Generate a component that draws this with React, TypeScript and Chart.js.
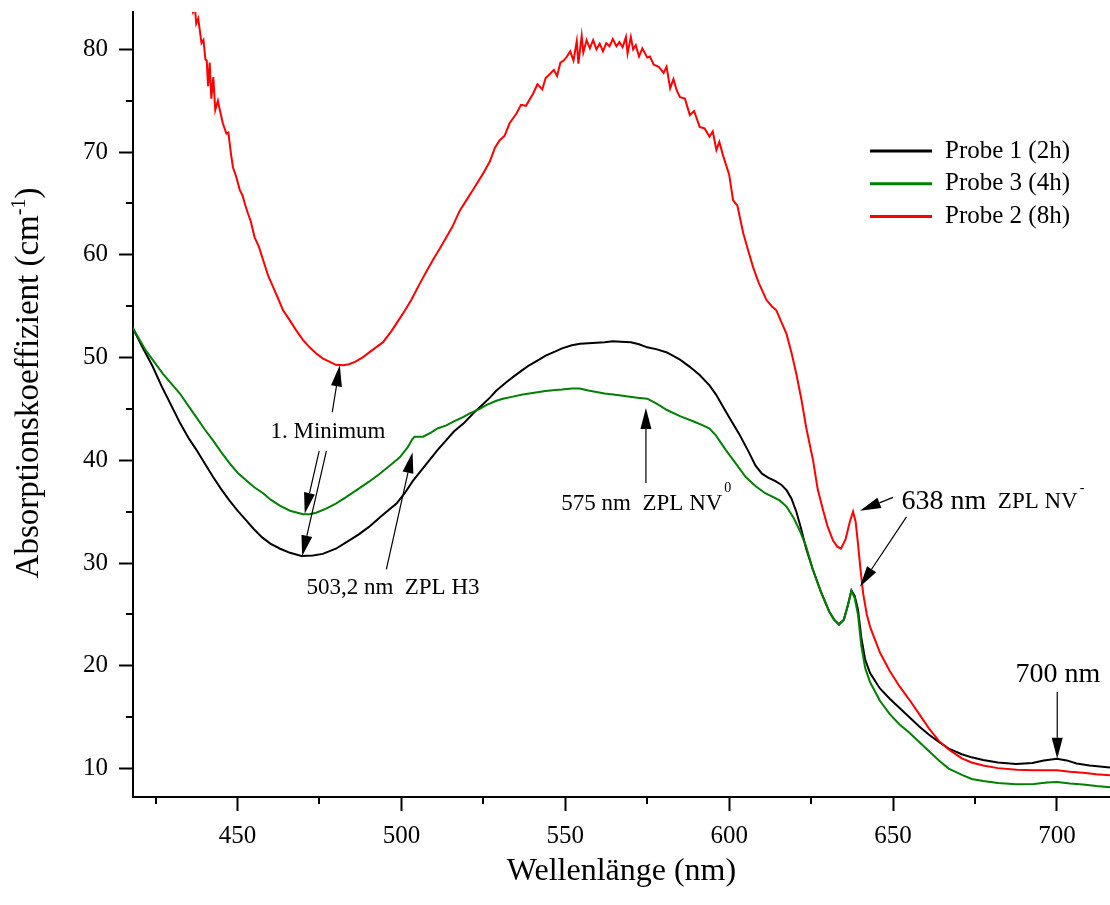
import React, { useEffect, useRef } from 'react';
import { Chart, registerables } from 'chart.js';

Chart.register(...registerables);

const FONT = '"Liberation Serif", "Times New Roman", serif';

const X_MIN = 418.1;
const X_MAX = 716.2;
const Y_MIN = 7.24;
const Y_MAX = 83.63;

const xMajorTicks = [450, 500, 550, 600, 650, 700];
const xMinorTicks = [425, 475, 525, 575, 625, 675];
const yMajorTicks = [10, 20, 30, 40, 50, 60, 70, 80];
const yMinorTicks = [15, 25, 35, 45, 55, 65, 75];

const xTitle = 'Wellenlänge (nm)';
const yTitleMain = 'Absorptionskoeffizient (cm';
const yTitleSup = '-1';
const yTitleEnd = ')';

const seriesLabels = ['Probe 1 (2h)', 'Probe 3 (4h)', 'Probe 2 (8h)'];
const seriesColors = ['#000000', '#008000', '#ff0000'];

// Probe 1 (2h) - black
const probe1Nm = [
  418, 421, 424, 427, 430, 432.5, 435, 437.5, 440, 442.5, 445, 447.5, 450, 452.5, 455, 457.5, 460, 463, 466, 469.5,
  473, 476, 480, 483, 487, 490, 494, 498.5, 501, 503.5, 506, 508.5, 511, 513.5, 516, 519, 522, 524, 527, 529,
  532, 534, 537, 539, 542, 544, 547, 549, 552, 554.5, 557, 559.5, 562, 564.5, 567, 570, 572.5, 575, 578, 581,
  585, 588, 591, 594, 596, 598, 600, 603, 606, 608, 610, 612, 614, 616, 617.5, 619, 620.5, 622, 623.5, 625.5,
  628, 630.5, 632, 633.5, 635, 636.3, 637.3, 638.3, 639.3, 640.3, 641.5, 643, 646, 649, 652, 655, 658, 661, 664, 667,
  671, 674, 677.5, 682, 687.5, 692.5, 696, 700, 703, 706, 710, 716.2,
];
const probe1Val = [
  52.9, 51.0, 49.2, 47.1, 45.2, 43.6, 42.2, 41.0, 39.7, 38.4, 37.2, 36.1, 35.1, 34.2, 33.3, 32.5, 31.9, 31.4, 31.0, 30.7,
  30.75, 30.9, 31.4, 32.0, 32.8, 33.5, 34.6, 35.8, 36.8, 38.0, 39.0, 40.0, 41.0, 41.9, 42.8, 43.6, 44.6, 45.2, 46.1, 46.8,
  47.6, 48.1, 48.8, 49.25, 49.8, 50.2, 50.6, 50.9, 51.2, 51.35, 51.4, 51.45, 51.5, 51.6, 51.55, 51.5, 51.3, 51.0, 50.8, 50.5,
  49.8, 49.1, 48.3, 47.3, 46.4, 45.3, 44.2, 42.6, 40.8, 39.5, 38.7, 38.3, 38.0, 37.6, 37.1, 36.3, 35.0, 33.3, 31.4, 29.4,
  27.2, 25.3, 24.5, 24.05, 24.5, 26.0, 27.35, 26.8, 25.5, 22.8, 20.6, 19.3, 17.8, 16.8, 15.9, 15.0, 14.1, 13.3, 12.6, 11.95,
  11.4, 11.1, 10.85, 10.6, 10.45, 10.55, 10.8, 10.95, 10.8, 10.5, 10.3, 10.1,
];

// Probe 3 (4h) - green
const probe3Nm = [
  418, 422, 424.5, 427.3, 430, 432.4, 435, 437.4, 440, 442.5, 445, 447.6, 450, 452.7, 455, 457.8, 460, 462.9, 466, 470,
  472, 474, 477, 480, 483, 486.3, 490, 493.4, 496.5, 499.5, 502, 503.2, 504, 506.6, 509, 511, 513.7, 516, 518.8, 521,
  523.9, 526, 529, 531, 534, 537, 539, 542, 544, 547, 549, 552, 554.4, 557, 559.5, 562, 564.6, 567, 569.7, 572,
  575, 578, 581, 585, 589, 592, 594, 596, 599, 602, 605, 608, 611, 613, 615.4, 617.5, 619.5, 621.5, 623.5, 625.5,
  628, 630.5, 632, 633.5, 635, 636.3, 637.3, 638.3, 639.3, 640.3, 641.5, 643, 646, 649, 652, 655, 658, 661, 664, 667,
  671, 674, 677.5, 682, 687.5, 693, 697, 700, 704, 708, 712, 716.2,
];
const probe3Val = [
  52.9, 50.7, 49.6, 48.4, 47.4, 46.5, 45.3, 44.2, 43.0, 41.95, 40.8, 39.7, 38.8, 38.05, 37.4, 36.8, 36.2, 35.6, 35.1, 34.75,
  34.75, 34.9, 35.3, 35.8, 36.4, 37.1, 37.9, 38.7, 39.5, 40.3, 41.3, 42.0, 42.3, 42.3, 42.7, 43.1, 43.4, 43.8, 44.2, 44.6,
  45.0, 45.4, 45.8, 46.0, 46.2, 46.4, 46.5, 46.65, 46.75, 46.85, 46.9, 47.0, 47.0, 46.8, 46.65, 46.5, 46.4, 46.3, 46.2, 46.1,
  46.0, 45.5, 44.9, 44.3, 43.8, 43.4, 43.1, 42.4, 41.0, 39.7, 38.4, 37.5, 36.8, 36.5, 36.1, 35.5, 34.5, 33.2, 31.6, 29.4,
  27.2, 25.3, 24.5, 24.0, 24.5, 26.0, 27.3, 26.6, 25.0, 22.0, 19.8, 18.4, 16.6, 15.3, 14.3, 13.5, 12.6, 11.7, 10.8, 10.0,
  9.4, 9.0, 8.8, 8.6, 8.47, 8.5, 8.65, 8.7, 8.55, 8.45, 8.3, 8.2,
];

// Probe 2 (8h) - red
const probe2Nm = [
  434.5, 436.4, 437, 437.4, 438, 439, 439.6, 440.2, 440.6, 441, 441.5, 442, 442.6, 443.2, 444, 444.6, 445.5, 446.6, 447.2, 448,
  448.6, 449.5, 450.7, 451.5, 452.3, 453.2, 454, 455.2, 456.5, 457.8, 459.3, 460.8, 462.3, 463.9, 466, 467.9, 470, 472, 474, 476.1,
  478, 480, 482.2, 484, 486, 488.3, 491, 494.4, 497, 500.5, 503, 505.6, 507.5, 509.6, 511.5, 513.7, 515.5, 517.8, 519.8, 522,
  524.9, 527, 528.5, 530, 531.5, 533, 535.1, 536.5, 538, 540.2, 541.5, 543, 544, 545.3, 546.5, 547.5, 548.5, 549.5, 550.4, 551.5,
  552.5, 553.5, 554, 555, 555.5, 556.5, 557.5, 558.5, 559.5, 560.5, 561.5, 562.5, 563.5, 564.5, 565.6, 566.5, 567.5, 568.5, 569, 570,
  570.7, 571.5, 572.5, 573.5, 575, 575.8, 577, 578.5, 580, 580.9, 582, 583, 584, 585, 586.5, 588, 589.3, 591, 592.5, 594,
  595, 596.1, 597, 598, 600, 601.2, 602.5, 604.3, 606, 607.3, 609, 611.4, 613, 614.4, 616, 617.5, 619, 620.5, 622, 623.5,
  625.6, 627, 628.7, 630, 631.7, 633, 634.1, 635.5, 636.8, 637.8, 638.6, 639.3, 640.1, 640.9, 642, 643, 646, 649, 652, 655,
  658, 661, 664, 667.3, 671, 674, 677.5, 682, 687.7, 693, 697, 700, 704, 708, 712, 716.2,
];
const probe2Val = [
  86.0, 83.6, 84.0, 82.5, 83.0, 80.6, 80.9, 79.0, 78.9, 76.4, 78.7, 75.2, 77.3, 74.1, 75.0, 74.1, 72.8, 71.8, 71.9, 69.8,
  68.5, 67.7, 66.3, 65.8, 64.9, 64.0, 63.3, 61.7, 60.8, 59.5, 58.0, 56.9, 55.8, 54.6, 53.6, 52.65, 51.7, 51.0, 50.4, 49.9,
  49.6, 49.3, 49.25, 49.35, 49.6, 50.05, 50.7, 51.5, 52.6, 54.3, 55.6, 57.2, 58.3, 59.5, 60.5, 61.7, 62.7, 64.3, 65.3, 66.4,
  67.9, 69.1, 70.4, 71.15, 71.6, 72.8, 73.75, 74.6, 74.5, 75.7, 76.6, 76.1, 77.2, 77.6, 78.0, 77.4, 78.7, 78.9, 79.25, 79.8,
  78.9, 80.8, 78.6, 81.3, 79.7, 80.9, 80.1, 80.9, 80.0, 80.55, 79.8, 80.6, 80.3, 81.0, 80.3, 80.7, 80.2, 81.2, 79.6, 81.2,
  80.0, 80.4, 79.3, 80.1, 79.2, 79.3, 78.5, 78.3, 77.7, 78.3, 76.2, 77.1, 76.0, 75.35, 75.2, 73.6, 74.0, 72.45, 72.3, 71.5,
  72.0, 70.2, 71.0, 69.8, 67.8, 65.3, 64.8, 62.1, 60.2, 58.8, 57.3, 55.6, 55.0, 54.6, 53.4, 52.3, 50.5, 48.4, 46.0, 43.2,
  40.0, 37.2, 35.1, 33.6, 32.2, 31.6, 31.4, 32.3, 34.0, 35.0, 34.0, 31.9, 29.3, 27.0, 25.0, 23.8, 21.3, 19.5, 18.0, 16.7,
  15.3, 13.9, 12.7, 11.8, 11.0, 10.6, 10.3, 10.05, 9.9, 9.85, 9.85, 9.84, 9.7, 9.6, 9.45, 9.35,
];

// annotation arrows in data coordinates: [tailNm, tailVal, tipNm, tipVal]
const annotationArrows = [
  [478.9, 44.7, 481.2, 49.25],
  [474.9, 40.9, 470.5, 34.8],
  [477.1, 40.9, 469.7, 30.66],
  [495.4, 29.4, 503.4, 40.8],
  [574.6, 37.8, 574.6, 45.1],
  [650.0, 36.4, 639.9, 35.1],
  [654.1, 34.5, 639.9, 27.7],
  [700.1, 17.45, 700.1, 10.97],
];

// annotation labels: anchor in data coordinates, alignment, and text runs [text, size, raise]
const annotationLabels = [
  { nm: 477.6, val: 42.75, align: 'center', runs: [['1. Minimum', 23, 0]] },
  { nm: 471.0, val: 27.55, align: 'left', runs: [['503,2 nm  ZPL H3', 23, 0]] },
  { nm: 548.8, val: 35.8, align: 'left', runs: [['575 nm  ZPL NV', 23, 0], ['0', 14, 15]] },
  { nm: 652.6, val: 35.95, align: 'left', runs: [['638 nm', 28, 0], ['  ZPL NV', 23, 0], ['-', 14, 14]] },
  { nm: 700.3, val: 19.1, align: 'center', runs: [['700 nm', 28, 0]] },
];

function drawArrow(ctx: CanvasRenderingContext2D, x1: number, y1: number, x2: number, y2: number) {
  const headLen = 21;
  const headHalf = 5.5;
  const dx = x2 - x1;
  const dy = y2 - y1;
  const len = Math.hypot(dx, dy);
  const ux = dx / len;
  const uy = dy / len;
  const bx = x2 - ux * headLen;
  const by = y2 - uy * headLen;
  ctx.beginPath();
  ctx.moveTo(x1, y1);
  ctx.lineTo(bx, by);
  ctx.stroke();
  ctx.beginPath();
  ctx.moveTo(x2, y2);
  ctx.lineTo(bx - uy * headHalf, by + ux * headHalf);
  ctx.lineTo(bx + uy * headHalf, by - ux * headHalf);
  ctx.closePath();
  ctx.fill();
}

const decorPlugin = {
  id: 'decor',
  afterDraw(chart: any) {
    const { ctx, chartArea } = chart;
    const xs = chart.scales.x;
    const ys = chart.scales.y;
    ctx.save();
    ctx.strokeStyle = '#000';
    ctx.fillStyle = '#000';
    ctx.lineWidth = 2;
    // minor ticks
    xMinorTicks.forEach((v) => {
      const px = Math.round(xs.getPixelForValue(v));
      ctx.beginPath();
      ctx.moveTo(px, chartArea.bottom);
      ctx.lineTo(px, chartArea.bottom + 7);
      ctx.stroke();
    });
    yMinorTicks.forEach((v) => {
      const py = Math.round(ys.getPixelForValue(v));
      ctx.beginPath();
      ctx.moveTo(chartArea.left, py);
      ctx.lineTo(chartArea.left - 7, py);
      ctx.stroke();
    });

    // arrows
    ctx.lineWidth = 1.2;
    annotationArrows.forEach(([a, b, c, d]) => {
      drawArrow(ctx, xs.getPixelForValue(a), ys.getPixelForValue(b), xs.getPixelForValue(c), ys.getPixelForValue(d));
    });

    // labels
    ctx.textBaseline = 'middle';
    ctx.textAlign = 'left';
    annotationLabels.forEach((lab) => {
      const widths = lab.runs.map(([t, s]) => {
        ctx.font = `${s}px ${FONT}`;
        return ctx.measureText(t as string).width;
      });
      const total = widths.reduce((p, q) => p + q, 0);
      let x = xs.getPixelForValue(lab.nm);
      const y = ys.getPixelForValue(lab.val);
      if (lab.align === 'center') x -= total / 2;
      lab.runs.forEach(([t, s, r], i) => {
        ctx.font = `${s}px ${FONT}`;
        ctx.fillText(t as string, x + (r ? 2 : 0), y - (r as number));
        x += widths[i];
      });
    });

    // legend
    const legX = chartArea.right - 240;
    const legY0 = chartArea.top + 139;
    seriesLabels.forEach((label, i) => {
      const y = legY0 + i * 32.7;
      ctx.strokeStyle = seriesColors[i];
      ctx.lineWidth = 3;
      ctx.beginPath();
      ctx.moveTo(legX, y);
      ctx.lineTo(legX + 62, y);
      ctx.stroke();
      ctx.fillStyle = '#000';
      ctx.font = `25px ${FONT}`;
      ctx.fillText(label, legX + 75, y);
    });

    // x title
    ctx.fillStyle = '#000';
    ctx.font = `32px ${FONT}`;
    ctx.textAlign = 'center';
    ctx.fillText(xTitle, (chartArea.left + chartArea.right) / 2, chartArea.bottom + 75);

    // y title (rotated)
    ctx.textAlign = 'left';
    ctx.textBaseline = 'alphabetic';
    ctx.font = `33px ${FONT}`;
    const w1 = ctx.measureText(yTitleMain).width;
    const w3 = ctx.measureText(yTitleEnd).width;
    ctx.font = `20px ${FONT}`;
    const w2 = ctx.measureText(yTitleSup).width;
    const tot = w1 + w2 + w3;
    ctx.translate(38, 383);
    ctx.rotate(-Math.PI / 2);
    let tx = -tot / 2;
    ctx.font = `33px ${FONT}`;
    ctx.fillText(yTitleMain, tx, 0);
    tx += w1;
    ctx.font = `20px ${FONT}`;
    ctx.fillText(yTitleSup, tx, -13);
    tx += w2;
    ctx.font = `33px ${FONT}`;
    ctx.fillText(yTitleEnd, tx, 0);
    ctx.restore();
  },
};

const toPoints = (xs: number[], ys: number[]) => xs.map((x, i) => ({ x, y: ys[i] }));

export default function App() {
  const ref = useRef<HTMLCanvasElement | null>(null);
  useEffect(() => {
    if (!ref.current) return;
    const tickFont = { family: FONT, size: 25 };
    const chart = new Chart(ref.current, {
      type: 'line',
      data: {
        datasets: [
          { label: seriesLabels[0], data: toPoints(probe1Nm, probe1Val), borderColor: seriesColors[0], order: 2 },
          { label: seriesLabels[1], data: toPoints(probe3Nm, probe3Val), borderColor: seriesColors[1], order: 1 },
          { label: seriesLabels[2], data: toPoints(probe2Nm, probe2Val), borderColor: seriesColors[2], order: 0 },
        ],
      },
      options: {
        responsive: false,
        animation: false,
        devicePixelRatio: 1,
        layout: { padding: { top: 12, right: 0, left: 0, bottom: 0 } },
        plugins: { legend: { display: false }, tooltip: { enabled: false }, title: { display: false } },
        elements: { point: { radius: 0 }, line: { borderWidth: 2, tension: 0 } },
        scales: {
          x: {
            type: 'linear',
            min: X_MIN,
            max: X_MAX,
            afterBuildTicks: (s: any) => {
              s.ticks = xMajorTicks.map((v) => ({ value: v }));
            },
            afterFit: (s: any) => {
              s.height = 108;
              s.paddingLeft = 0;
              s.paddingRight = 0;
            },
            ticks: { font: tickFont, color: '#000', padding: 10, maxRotation: 0, autoSkip: false },
            grid: { display: true, drawOnChartArea: false, drawTicks: true, tickLength: 14, tickWidth: 2, tickColor: '#000' },
            border: { display: true, color: '#000', width: 2 },
          },
          y: {
            type: 'linear',
            min: Y_MIN,
            max: Y_MAX,
            afterBuildTicks: (s: any) => {
              s.ticks = yMajorTicks.map((v) => ({ value: v }));
            },
            afterFit: (s: any) => {
              s.width = 133;
              s.paddingTop = 0;
              s.paddingBottom = 0;
            },
            ticks: { font: tickFont, color: '#000', padding: 11, autoSkip: false },
            grid: { display: true, drawOnChartArea: false, drawTicks: true, tickLength: 14, tickWidth: 2, tickColor: '#000' },
            border: { display: true, color: '#000', width: 2 },
          },
        },
      },
      plugins: [decorPlugin],
    } as any);
    return () => chart.destroy();
  }, []);
  return (
    <div style={{ position: 'absolute', left: 0, top: 0, width: 1110, height: 905, background: '#fff' }}>
      <canvas ref={ref} width={1110} height={905} style={{ display: 'block' }} />
    </div>
  );
}
